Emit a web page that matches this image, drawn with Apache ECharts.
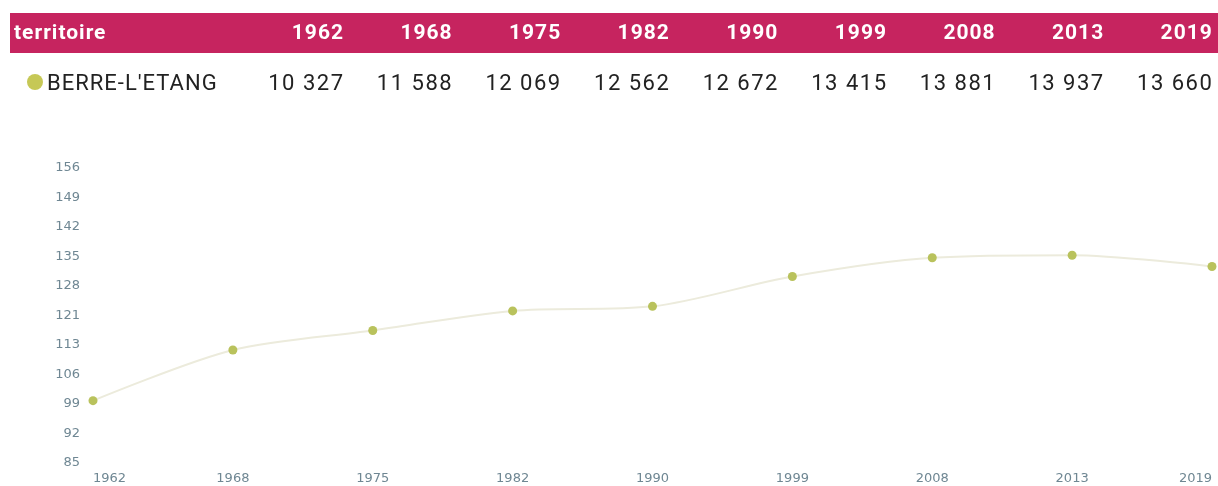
<!DOCTYPE html>
<html><head><meta charset="utf-8">
<script src="https://cdn.jsdelivr.net/npm/echarts@6/dist/echarts.min.js"></script>
<style>
html,body{margin:0;padding:0;background:#fff;width:1218px;height:486px;overflow:hidden;font-family:Roboto,"Noto Sans",sans-serif;}
#hdr{position:absolute;left:10px;top:13px;width:1208px;height:40px;background:#c6245f;}
.c{position:absolute;white-space:nowrap;letter-spacing:1px;}
.h{color:#fff;font-weight:bold;font-size:21px;top:20px;}
.r{color:#222;font-size:22px;top:70px;}
.num{margin-right:-1px;}
.r.num{letter-spacing:1.5px;margin-right:-1.5px;}
#dot{position:absolute;left:27px;top:74px;width:16px;height:16px;border-radius:50%;background:#c6c856;}
#chart{position:absolute;left:0;top:0;width:1218px;height:486px;}
</style></head>
<body>
<div id="hdr"></div>
<div id="chart"></div>
<div id="dot"></div>
<div id="tbl"></div>
<script>
const territory = "BERRE-L'ETANG";
const headerLabel = "territoire";
const years = ["1962","1968","1975","1982","1990","1999","2008","2013","2019"];
const populations = ["10\u00a0327","11\u00a0588","12\u00a0069","12\u00a0562","12\u00a0672","13\u00a0415","13\u00a0881","13\u00a0937","13\u00a0660"];
const indexValues = [100, 112.2, 116.9, 121.6, 122.7, 129.9, 134.4, 135.0, 132.3];

// table built from arrays
const tbl = document.getElementById('tbl');
function add(cls, text, left, right){
  const d = document.createElement('div');
  d.className = 'c ' + cls;
  d.textContent = text;
  if (left !== null) d.style.left = left + 'px';
  if (right !== null) d.style.right = right + 'px';
  tbl.appendChild(d);
}
add('h', headerLabel, 14, null);
add('r', territory, 47, null);
years.forEach((y, i) => {
  const rightEdge = 343 + i * 108.6;
  add('h num', y, null, 1218 - rightEdge);
  add('r num', populations[i], null, 1218 - rightEdge);
});

const chart = echarts.init(document.getElementById('chart'));
chart.setOption({
  animation: false,
  grid: {left: 93, right: 6, top: 168, bottom: 23, containLabel: false},
  xAxis: {
    type: 'category', data: years, boundaryGap: false,
    axisLine: {show: false}, axisTick: {show: false}, splitLine: {show: false},
    axisLabel: {color: '#6f8793', fontSize: 13, margin: 9, fontFamily: 'DejaVu Sans',
      alignMinLabel: 'left', alignMaxLabel: 'right'}
  },
  yAxis: {
    type: 'value', min: 85, max: 156, interval: 7.1,
    axisLine: {show: false}, axisTick: {show: false}, splitLine: {show: false},
    axisLabel: {color: '#6f8793', fontSize: 13, margin: 13, fontFamily: 'DejaVu Sans',
      formatter: v => Math.round(v)}
  },
  series: [{
    type: 'line', data: indexValues, smooth: 0.3,
    symbol: 'circle', symbolSize: 9,
    lineStyle: {color: '#ecebdc', width: 2},
    itemStyle: {color: '#b9c25c'}
  }]
});
</script>
</body></html>
